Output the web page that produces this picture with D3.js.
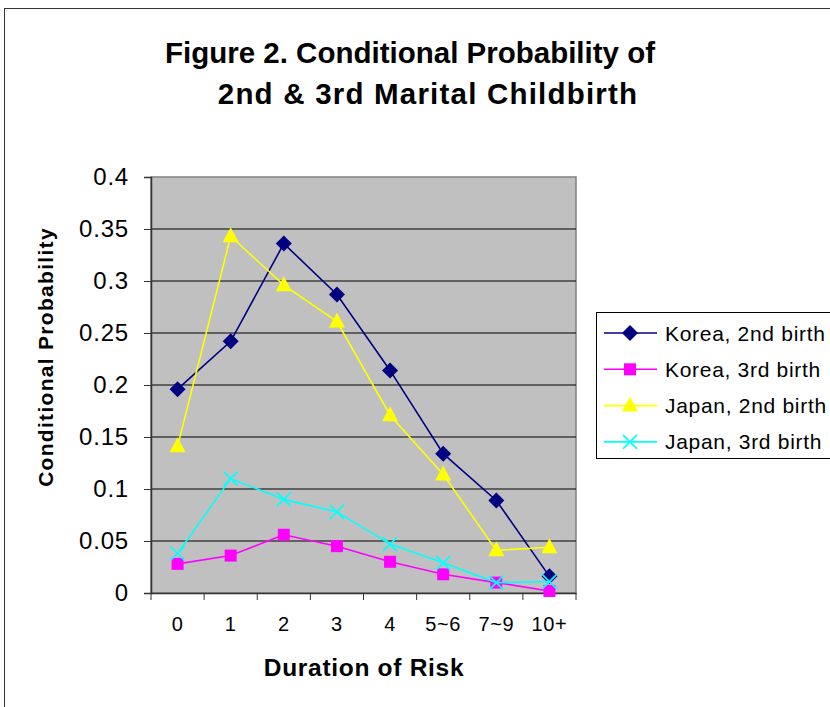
<!DOCTYPE html>
<html lang="en">
<head>
<meta charset="UTF-8">
<title>Figure 2</title>
<script src="https://cdn.jsdelivr.net/npm/d3@7"></script>
<style>
    body { margin: 0; background: #fff; }
    svg { font-family: Arial, "Liberation Sans", sans-serif; }
    .title { font-size: 29.5px; font-weight: bold; }
    .axisTitle { font-weight: bold; }
</style>
</head>
<body>
<svg width="830" height="707"></svg>
<script>
    // values
    const durations = ["0", "1", "2", "3", "4", "5~6", "7~9", "10+"];
    const korea2nd = [0.196, 0.242, 0.336, 0.287, 0.214, 0.134, 0.089, 0.016];
    const korea3rd = [0.028, 0.036, 0.056, 0.045, 0.030, 0.018, 0.010, 0.002];
    const japan2nd = [0.141, 0.343, 0.296, 0.261, 0.171, 0.114, 0.041, 0.044];
    const japan3rd = [0.038, 0.110, 0.090, 0.078, 0.047, 0.029, 0.010, 0.011];
    const yTicks = [0, 0.05, 0.1, 0.15, 0.2, 0.25, 0.3, 0.35, 0.4];

    const series = [
        {name: "Korea, 2nd birth", values: korea2nd, color: "#000080", marker: "diamond"},
        {name: "Korea, 3rd birth", values: korea3rd, color: "#FF00FF", marker: "square"},
        {name: "Japan, 2nd birth", values: japan2nd, color: "#FFFF00", marker: "triangle"},
        {name: "Japan, 3rd birth", values: japan3rd, color: "#00FFFF", marker: "cross"}
    ];

    const svg = d3.select("svg");

    // outer chart frame
    svg.append("rect")
        .attr("x", 4.5).attr("y", 8.5)
        .attr("width", 840).attr("height", 720)
        .attr("fill", "none").attr("stroke", "#333").attr("stroke-width", 1);

    const plotL = 151, plotR = 576, plotT = 177, plotB = 593;

    const x = d3.scaleBand().domain(durations).range([plotL, plotR]);
    const y = d3.scaleLinear().domain([0, 0.4]).range([plotB, plotT]);

    // plot area
    svg.append("rect")
        .attr("x", plotL).attr("y", plotT)
        .attr("width", plotR - plotL).attr("height", plotB - plotT)
        .attr("fill", "#C0C0C0").attr("stroke", "#808080").attr("stroke-width", 1.5);

    // gridlines
    svg.append("g")
        .selectAll("line")
        .data(yTicks.filter(d => d > 0 && d < 0.4))
        .join("line")
        .attr("x1", plotL).attr("x2", plotR)
        .attr("y1", d => y(d)).attr("y2", d => y(d))
        .attr("stroke", "#000").attr("stroke-width", 1);

    // y axis
    const yAxis = svg.append("g")
        .attr("transform", `translate(${plotL},0)`)
        .call(d3.axisLeft(y).tickValues(yTicks).tickFormat(d => String(+d.toFixed(2))).tickSize(7).tickPadding(15));
    yAxis.select(".domain").attr("stroke", "#333").attr("stroke-width", 1.5);
    yAxis.selectAll(".tick line").attr("stroke", "#333");
    yAxis.selectAll("text").attr("font-size", 24).attr("letter-spacing", 0.8)
        .attr("fill", "#000").attr("font-family", "Arial, 'Liberation Sans', sans-serif");

    // x axis: ticks on category boundaries
    const xAxis = svg.append("g")
        .attr("transform", `translate(0,${plotB})`)
        .call(d3.axisBottom(x).tickSize(0).tickPadding(24));
    xAxis.select(".domain").attr("stroke", "#333").attr("stroke-width", 1.5);
    xAxis.selectAll("text").attr("font-size", 20).attr("letter-spacing", 0.6)
        .attr("fill", "#000").attr("font-family", "Arial, 'Liberation Sans', sans-serif");
    xAxis.selectAll(".boundary")
        .data(d3.range(durations.length + 1))
        .join("line")
        .attr("x1", i => plotL + i * x.bandwidth())
        .attr("x2", i => plotL + i * x.bandwidth())
        .attr("y1", 0).attr("y2", 7)
        .attr("stroke", "#333");

    const cx = i => x(durations[i]) + x.bandwidth() / 2;

    function drawMarker(g, type, color) {
        if (type === "diamond") {
            g.append("path").attr("d", "M0,-8L8,0L0,8L-8,0Z").attr("fill", color);
        } else if (type === "square") {
            g.append("rect").attr("x", -6).attr("y", -6).attr("width", 12).attr("height", 12).attr("fill", color);
        } else if (type === "triangle") {
            g.append("path").attr("d", "M0,-9L8,6L-8,6Z").attr("fill", color);
        } else {
            g.append("path").attr("d", "M-7,-7L7,7M-7,7L7,-7").attr("stroke", color).attr("stroke-width", 1.6).attr("fill", "none");
        }
    }

    const line = d3.line().x((d, i) => cx(i)).y(d => y(d));

    series.forEach(s => {
        const g = svg.append("g");
        g.append("path")
            .attr("d", line(s.values))
            .attr("fill", "none")
            .attr("stroke", s.color)
            .attr("stroke-width", 1.6);
        s.values.forEach((v, i) => {
            const m = g.append("g").attr("transform", `translate(${cx(i)},${y(v)})`);
            drawMarker(m, s.marker, s.color);
        });
    });

    // legend
    const legend = svg.append("g");
    legend.append("rect")
        .attr("x", 596.5).attr("y", 312.5)
        .attr("width", 250).attr("height", 146)
        .attr("fill", "#fff").attr("stroke", "#000");
    series.forEach((s, i) => {
        const ly = 333 + i * 36.3;
        legend.append("line")
            .attr("x1", 604).attr("x2", 657)
            .attr("y1", ly).attr("y2", ly)
            .attr("stroke", s.color).attr("stroke-width", 1.6);
        const m = legend.append("g").attr("transform", `translate(630,${ly})`);
        drawMarker(m, s.marker, s.color);
        legend.append("text")
            .attr("x", 665).attr("y", ly + 7.5)
            .attr("font-size", 21)
            .attr("letter-spacing", 0.7)
            .text(s.name);
    });

    // titles
    svg.append("text").attr("class", "title")
        .attr("x", 410).attr("y", 63).attr("text-anchor", "middle")
        .text("Figure 2. Conditional Probability of");
    svg.append("text").attr("class", "title")
        .attr("x", 428).attr("y", 104).attr("text-anchor", "middle")
        .attr("letter-spacing", 1.2)
        .text("2nd & 3rd Marital Childbirth");

    svg.append("text").attr("class", "axisTitle")
        .attr("transform", "translate(53,357) rotate(-90)")
        .attr("text-anchor", "middle")
        .attr("font-size", 21)
        .attr("letter-spacing", 1.3)
        .text("Conditional Probability");

    svg.append("text").attr("class", "axisTitle")
        .attr("x", 364).attr("y", 676)
        .attr("text-anchor", "middle")
        .attr("font-size", 24.5)
        .attr("letter-spacing", 0.7)
        .text("Duration of Risk");
</script>
</body>
</html>
